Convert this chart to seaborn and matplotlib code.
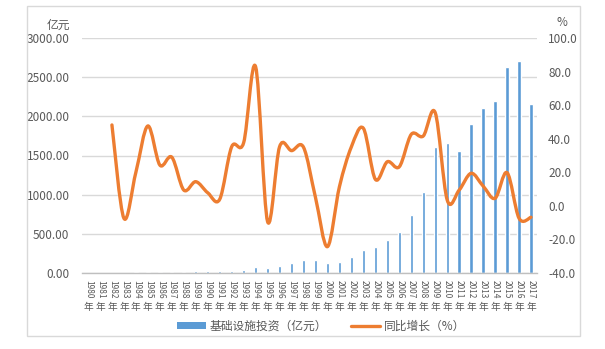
import numpy as np
import pandas as pd
import seaborn as sns
import matplotlib
matplotlib.use("Agg")
import matplotlib.pyplot as plt
from matplotlib.path import Path
from matplotlib.patches import PathPatch, Patch, Rectangle
from matplotlib.lines import Line2D

# ---- data ----
years = list(range(1980, 2018))
year_labels = [str(y) for y in years]
investment = [3, 4, 6, 5.5, 7, 10, 12, 16, 17, 20, 21, 22, 30, 43, 80, 68, 93, 123,
              166, 166, 123, 140, 200, 294, 328, 421, 520, 737, 1034, 1605, 1664,
              1561, 1899, 2111, 2200, 2634, 2707, 2154]
growth = [None, None, 48.2, -7.4, 20.0, 47.6, 24.3, 29.0, 9.4, 14.4, 7.8, 3.9, 35.2,
          37.6, 82.9, -9.4, 35.2, 32.9, 34.9, 5.0, -24.3, 11.4, 35.2, 46.2, 15.8,
          26.3, 23.3, 42.6, 41.6, 55.5, 3.5, 9.4, 19.4, 11.8, 4.5, 19.8, -7.4, -6.8]
left_ticks = [0, 500, 1000, 1500, 2000, 2500, 3000]
right_ticks = [-40, -20, 0, 20, 40, 60, 80, 100]
bar_name = "基础设施投资（亿元）"
line_name = "同比增长（%）"

BLUE = "#5B9BD5"
ORANGE = "#ED7D31"
TXT = "#595959"
GRID = "#D9D9D9"

sns.set_theme(style="white")
plt.rcParams["font.family"] = ["Noto Sans CJK SC", "DejaVu Sans"]
plt.rcParams["axes.unicode_minus"] = False

W, H = 605, 349
fig = plt.figure(figsize=(W / 100, H / 100), dpi=100)
ax = fig.add_axes([82 / W, 1 - 273 / H, (537 - 82) / W, (273 - 38) / H])

df = pd.DataFrame({"year": year_labels, "value": investment})
sns.barplot(data=df, x="year", y="value", color=BLUE, saturation=1, width=0.28,
            ax=ax, zorder=2)
ax.set_xlim(-0.5, len(years) - 0.5)
ax.set_ylim(0, 3000)
ax.set_yticks(left_ticks)
ax.set_yticklabels([f"{v:.2f}" for v in left_ticks], fontsize=8.5, color=TXT)
ax.yaxis.grid(True, color=GRID, linewidth=1)
ax.set_axisbelow(True)
ax.tick_params(axis="y", length=0, pad=9)
ax.set_xlabel("")
ax.set_ylabel("")
for s in ["top", "right", "left"]:
    ax.spines[s].set_visible(False)
ax.spines["bottom"].set_color("#BFBFBF")
ax.spines["bottom"].set_linewidth(1)
ax.set_xticks(range(len(years)))
ax.set_xticklabels([])
ax.tick_params(axis="x", length=0)
for i, lab in enumerate(year_labels):
    ax.annotate(lab, xy=(i, 0), xycoords=("data", "axes fraction"),
                xytext=(0.3, -5), textcoords="offset points", rotation=270,
                rotation_mode="default", ha="center", va="top",
                fontsize=6, color=TXT)
    ax.annotate("年", xy=(i, 0), xycoords=("data", "axes fraction"),
                xytext=(0, -21), textcoords="offset points", ha="center",
                va="top", fontsize=7, color=TXT)

ax2 = ax.twinx()
ax2.set_ylim(-40, 100)
ax2.set_yticks(right_ticks)
ax2.set_yticklabels([f"{v:.1f}" for v in right_ticks], fontsize=8.5, color=TXT)
ax2.tick_params(axis="y", length=0, pad=8)
for s in ax2.spines.values():
    s.set_visible(False)
ax2.grid(False)

# smoothed line (Catmull-Rom -> cubic Bezier, in data coordinates)
pts = [(i, g) for i, g in enumerate(growth) if g is not None]
P = np.array(pts, dtype=float)
n = len(P)
verts = [tuple(P[0])]
codes = [Path.MOVETO]
for k in range(n - 1):
    p0 = P[k - 1] if k > 0 else P[k]
    p1 = P[k]
    p2 = P[k + 1]
    p3 = P[k + 2] if k + 2 < n else P[k + 1]
    c1 = p1 + (p2 - p0) / 6.0
    c2 = p2 - (p3 - p1) / 6.0
    verts += [tuple(c1), tuple(c2), tuple(p2)]
    codes += [Path.CURVE4] * 3
ax2.add_patch(PathPatch(Path(verts, codes), facecolor="none", edgecolor=ORANGE,
                        linewidth=2.4, capstyle="round", joinstyle="round",
                        zorder=3))

# unit labels
fig.text(70 / W, 1 - 25 / H, "亿元", ha="right", va="center", fontsize=8.5, color=TXT)
fig.text(562 / W, 1 - 23 / H, "%", ha="center", va="center", fontsize=8.5, color=TXT)

# legend
handles = [Patch(facecolor=BLUE, edgecolor="none"),
           Line2D([0], [0], color=ORANGE, linewidth=2.4)]
fig.legend(handles, [bar_name, line_name], loc="center",
           bbox_to_anchor=(321 / W, 1 - 326 / H), ncol=2, frameon=False,
           fontsize=8.5, labelcolor=TXT, handlelength=2.5, handleheight=0.55,
           handletextpad=0.3, columnspacing=2.0)

# outer border
fig.add_artist(Rectangle((27 / W, 1 - 336 / H), (580 - 27) / W, (336 - 6) / H,
                         transform=fig.transFigure, fill=False,
                         edgecolor=GRID, linewidth=1))

fig.savefig("out.png", dpi=100)
